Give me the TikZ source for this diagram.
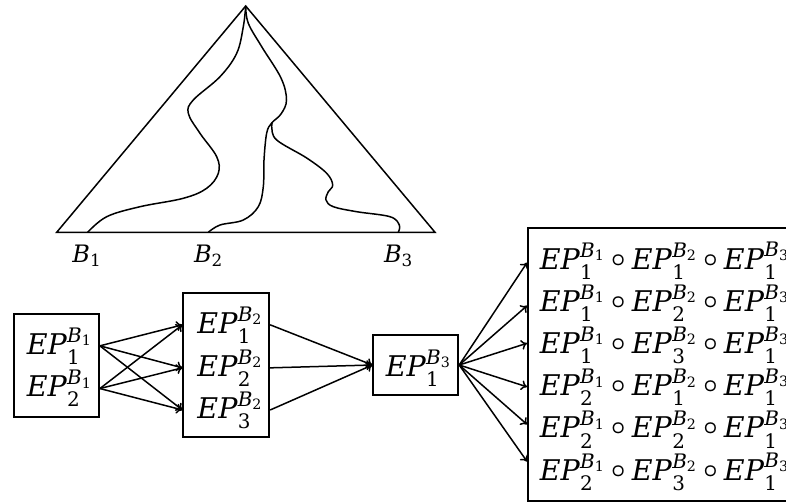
\documentclass[tikz,border=0pt]{standalone}
\usepackage{amsmath}
\usepackage{fontspec}
\setmainfont{DejaVu Serif}
\usepackage{tikz}
\usetikzlibrary{arrows.meta, positioning, calc}

\newcommand{\ep}[2]{\textit{EP}$^{\text{\itshape B}_{\text{#2}}}_{\text{#1}}$}
\newcommand{\comp}{\hspace{7.5pt}\makebox[12pt]{\raisebox{3pt}{$\boldsymbol{\circ}$}}\hspace{7.5pt}}

\begin{document}
\begin{tikzpicture}[x=1pt, y=-1pt, line width=1.5pt,
        box/.style={draw, line width=1.8pt, inner sep=0pt},
        entry/.style={inner sep=0pt, anchor=base west, font=\fontsize{28.5}{34}\selectfont},
        corner/.style={inner sep=0pt, anchor=base west, font=\fontsize{24}{28}\selectfont},
        >={To[length=6pt, width=10pt]}]

        \clip (0,0) rectangle (786,503);

        % simplex with the three regions
        \coordinate (vt) at (245.7,6);
        \coordinate (vl) at (56.7,232.3);
        \coordinate (vr) at (435,232.3);
        \draw (vl) -- (vt) -- (vr) -- cycle;

        \draw plot[smooth, tension=0.6] coordinates {(87.7,232.3) (106.7,216.7) (140,206.7) (183.3,198.3) (206.7,188.3) (218.3,173.3) (216.7,156.7) (200,133.3) (188.3,113.3) (193.3,100) (220,76.7) (236.7,53.3) (243.3,26.7) (245.7,6)};
        \draw plot[smooth, tension=0.6] coordinates {(208.3,232.3) (220,225) (243.3,220) (258.3,206.7) (263.3,186.7) (264,160) (266.7,133) (271.7,123) (281,114) (286.5,100) (281,78) (261.7,46.7) (248.3,23.3) (245.7,6)};
        \draw plot[smooth, tension=0.6] coordinates {(398.3,232.3) (399.3,225) (390,216.7) (356.7,211.7) (333.3,206.7) (326,200) (328.3,191.7) (332.7,185) (326.7,173.3) (306.7,158) (276.7,140) (271.7,126.7) (272.5,122.5)};

        \node[corner] (b1) at (71.7,262.3) {\textit{B}$_{\text{1}}$};
        \node[corner] (b2) at (193.3,262.3) {\textit{B}$_{\text{2}}$};
        \node[corner] (b3) at (383.3,262.3) {\textit{B}$_{\text{3}}$};

        % stage boxes
        \node[box, minimum width=85pt, minimum height=102.7pt] (abox) at (56.5,365.3) {};
        \node[entry] (a1) at (26,354) {\ep{1}{1}};
        \node[entry] (a2) at (26,396.7) {\ep{2}{1}};

        \node[box, minimum width=86pt, minimum height=144pt] (bbox) at (226.3,365.3) {};
        \node[entry] (p1) at (196.7,333) {\ep{1}{2}};
        \node[entry] (p2) at (196.7,376) {\ep{2}{2}};
        \node[entry] (p3) at (196.7,418) {\ep{3}{2}};

        \node[box, minimum width=85pt, minimum height=60pt] (cbox) at (415.8,365) {};
        \node[entry] (c1) at (385,376.7) {\ep{1}{3}};

        \node[box, minimum width=372pt, minimum height=272.7pt] (dbox) at (714,364.65) {};
        \node[entry] (d1) at (539,269) {\ep{1}{1}\comp\ep{1}{2}\comp\ep{1}{3}};
        \node[entry] (d2) at (539,311.2) {\ep{1}{1}\comp\ep{2}{2}\comp\ep{1}{3}};
        \node[entry] (d3) at (539,353.4) {\ep{1}{1}\comp\ep{3}{2}\comp\ep{1}{3}};
        \node[entry] (d4) at (539,395.6) {\ep{2}{1}\comp\ep{1}{2}\comp\ep{1}{3}};
        \node[entry] (d5) at (539,437.8) {\ep{2}{1}\comp\ep{2}{2}\comp\ep{1}{3}};
        \node[entry] (d6) at (539,480) {\ep{2}{1}\comp\ep{3}{2}\comp\ep{1}{3}};

        % connectors
        \draw[->] (abox.east |- a1) -- (bbox.west |- p1);
        \draw[->] (abox.east |- a1) -- (bbox.west |- p2);
        \draw[->] (abox.east |- a1) -- (bbox.west |- p3);
        \draw[->] (abox.east |- a2) -- (bbox.west |- p1);
        \draw[->] (abox.east |- a2) -- (bbox.west |- p2);
        \draw[->] (abox.east |- a2) -- (bbox.west |- p3);

        \draw[->] (bbox.east |- p1) -- (cbox.west);
        \draw[->] (bbox.east |- p2) -- (cbox.west);
        \draw[->] (bbox.east |- p3) -- (cbox.west);

        \coordinate (t1) at ($(dbox.north west)!0.128!(dbox.south west)$);
        \coordinate (t2) at ($(dbox.north west)!0.285!(dbox.south west)$);
        \coordinate (t3) at ($(dbox.north west)!0.422!(dbox.south west)$);
        \coordinate (t4) at ($(dbox.north west)!0.581!(dbox.south west)$);
        \coordinate (t5) at ($(dbox.north west)!0.718!(dbox.south west)$);
        \coordinate (t6) at ($(dbox.north west)!0.853!(dbox.south west)$);
        \draw[->] (cbox.east) -- (t1);
        \draw[->] (cbox.east) -- (t2);
        \draw[->] (cbox.east) -- (t3);
        \draw[->] (cbox.east) -- (t4);
        \draw[->] (cbox.east) -- (t5);
        \draw[->] (cbox.east) -- (t6);

    \end{tikzpicture}
\end{document}
